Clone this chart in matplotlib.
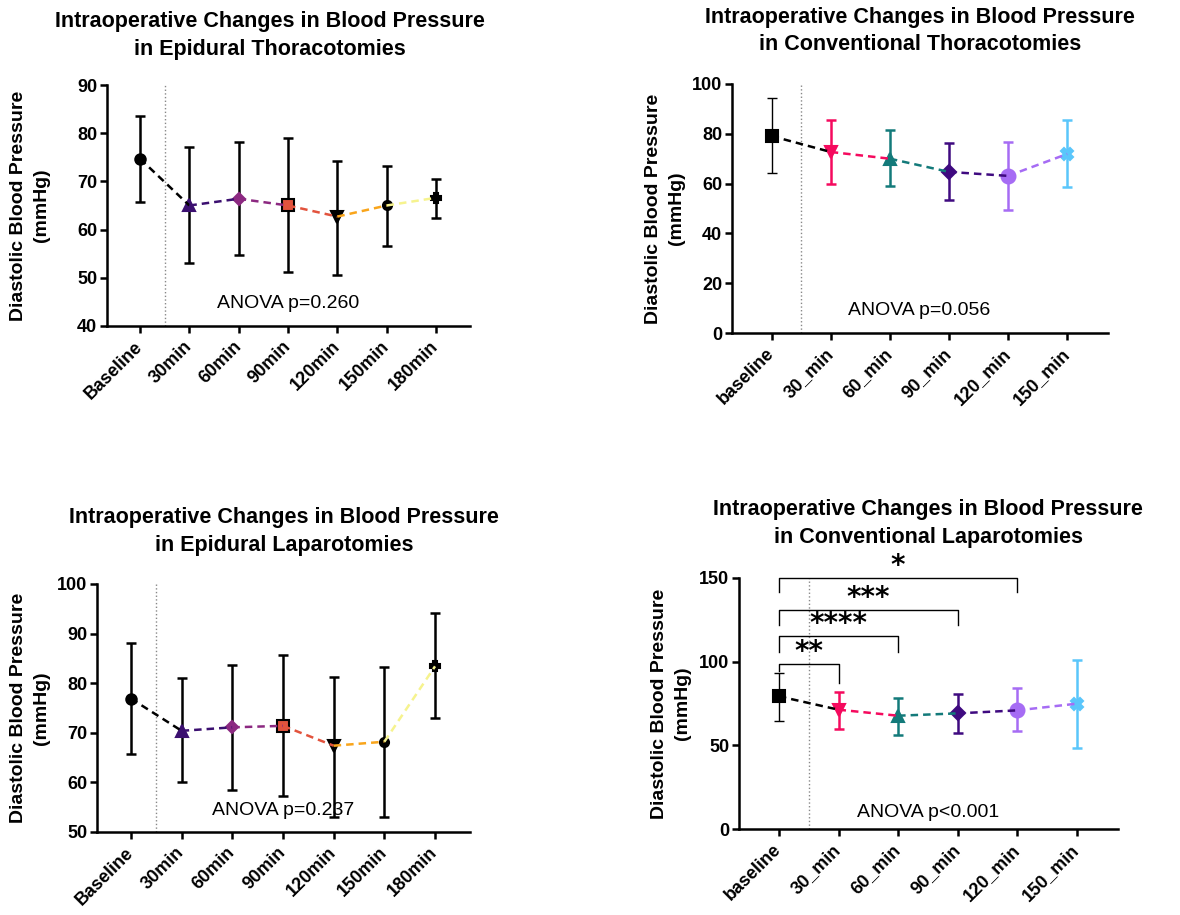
import matplotlib
matplotlib.use("Agg")
import matplotlib.pyplot as plt
import matplotlib.transforms as mtransforms
import numpy as np

plt.rcParams['font.family'] = ['Liberation Sans', 'DejaVu Sans']

# ---- DATA ----
# epidural thoracotomies
et_labels = ["Baseline", "30min", "60min", "90min", "120min", "150min", "180min"]
et_mean = [74.7, 65.0, 66.4, 65.0, 62.7, 65.0, 66.6]
et_low = [65.8, 53.1, 54.8, 51.1, 50.6, 56.7, 62.5]
et_high = [83.6, 77.1, 78.2, 79.0, 74.3, 73.2, 70.6]
et_anova = "ANOVA p=0.260"

# conventional thoracotomies
ct_labels = ["baseline", "30_min", "60_min", "90_min", "120_min", "150_min"]
ct_mean = [79.1, 72.7, 70.0, 64.7, 63.1, 71.9]
ct_low = [64.4, 59.9, 59.1, 53.6, 49.5, 58.8]
ct_high = [94.4, 85.6, 81.6, 76.5, 76.9, 85.6]
ct_anova = "ANOVA p=0.056"

# epidural laparotomies
el_labels = ["Baseline", "30min", "60min", "90min", "120min", "150min", "180min"]
el_mean = [76.9, 70.4, 71.1, 71.4, 67.4, 68.2, 83.4]
el_low = [65.7, 60.1, 58.5, 57.2, 53.0, 53.0, 72.9]
el_high = [88.2, 81.0, 83.6, 85.7, 81.2, 83.2, 94.2]
el_anova = "ANOVA p=0.237"

# conventional laparotomies
cl_labels = ["baseline", "30_min", "60_min", "90_min", "120_min", "150_min"]
cl_mean = [79.3, 71.3, 67.7, 69.1, 70.9, 74.9]
cl_low = [64.7, 60.0, 56.4, 57.2, 58.4, 48.6]
cl_high = [93.4, 82.1, 78.5, 80.9, 84.1, 100.8]
cl_anova = "ANOVA p<0.001"
cl_sig_pairs = [(0, 1), (0, 2), (0, 3), (0, 4)]
cl_sig_stars = ["**", "****", "***", "*"]

# ---- STYLES ----
EPI_SEG = ["black", "#3b0f70", "#8c2981", "#e2533d", "#f9a51b", "#f6f38e"]
EPI_MARK = ["o", "^", "D", "s", "v", "o", "P"]
EPI_MS = [7.5, 8, 6, 8.5, 9, 6.5, 6.5]
EPI_FACE = ["black", "#3b0f70", "#8c2981", "#e2533d", "black", "black", "black"]
EPI_EDGE = ["black", "#3b0f70", "#8c2981", "black", "black", "black", "black"]
EPI_ERR = ["black"] * 7
EPI_ELW = [1.8] * 7

CON_COL = ["black", "#f50a5e", "#137a7a", "#3f0a80", "#a66cf4", "#5ac6fb"]
CON_MARK = ["s", "v", "^", "D", "o", "X"]
CON_MS = [8, 8, 9, 7, 10, 8.5]
CON_ELW = [1.0, 1.8, 1.8, 1.8, 1.8, 1.8]

TITLE_FS = 15.5
LABEL_FS = 14
TICK_FS = 13

W, H = 1180, 915
fig = plt.figure(figsize=(W / 100, H / 100), dpi=100)
label_shift = mtransforms.ScaledTranslation(4 / 100, -5 / 100, fig.dpi_scale_trans)


def draw_panel(ax, labels, mean, low, high, markers, msizes, faces, edges,
               ecolors, elws, segcolors, ylim, yticks, anova, anova_xy, ylab_x):
    x = np.arange(len(labels))
    for i in x:
        ax.errorbar(x[i], mean[i], yerr=[[mean[i] - low[i]], [high[i] - mean[i]]],
                    fmt="none", ecolor=ecolors[i], elinewidth=elws[i],
                    capsize=3.6, capthick=elws[i], zorder=2)
        ax.plot(x[i], mean[i], marker=markers[i], ms=msizes[i], mfc=faces[i],
                mec=edges[i], mew=1.5, ls="none", zorder=3)
    for i in range(len(x) - 1):
        ax.plot(x[i:i + 2], mean[i:i + 2], color=segcolors[i], lw=1.8,
                dashes=(3.0, 2.0), zorder=4)
    ax.axvline(0.5, color="#888888", lw=1.0, ls=":", zorder=1)

    ax.set_xlim(-0.67, len(labels) - 1 + 0.69)
    ax.set_ylim(*ylim)
    ax.set_yticks(yticks)
    ax.set_xticks(x)
    ax.set_xticklabels(labels, rotation=45, ha="right", va="center",
                       rotation_mode="anchor", fontweight="bold", fontsize=TICK_FS)
    for lbl in ax.get_xticklabels():
        lbl.set_transform(lbl.get_transform() + label_shift)
    for lbl in ax.get_yticklabels():
        lbl.set_fontweight("bold")
        lbl.set_fontsize(TICK_FS)
    ax.tick_params(axis="both", direction="out", length=5, width=1.8, color="black")
    ax.tick_params(axis="x", pad=8)
    ax.tick_params(axis="y", pad=2)
    for side in ("top", "right"):
        ax.spines[side].set_visible(False)
    for side in ("left", "bottom"):
        ax.spines[side].set_linewidth(1.8)
    ax.text(anova_xy[0], anova_xy[1], anova, ha="center", va="center", fontsize=14)
    ax.text(ylab_x, 0.5, "Diastolic Blood Pressure\n(mmHg)", transform=ax.transAxes,
            rotation=90, ha="center", va="center", fontsize=LABEL_FS,
            fontweight="bold", multialignment="center", linespacing=1.45)


def px_axes(left, right, top, bottom):
    return fig.add_axes([left / W, 1 - bottom / H, (right - left) / W, (bottom - top) / H])


def title(x, y1, y2, line1, line2):
    fig.text(x / W, 1 - y1 / H, line1, ha="center", va="center",
             fontsize=TITLE_FS, fontweight="bold")
    fig.text(x / W, 1 - y2 / H, line2, ha="center", va="center",
             fontsize=TITLE_FS, fontweight="bold")


# top left
ax1 = px_axes(107, 470, 85, 326)
draw_panel(ax1, et_labels, et_mean, et_low, et_high, EPI_MARK, EPI_MS, EPI_FACE,
           EPI_EDGE, EPI_ERR, EPI_ELW, EPI_SEG, (40, 90), np.arange(40, 91, 10),
           et_anova, (3.0, 44.6), -0.212)
title(270, 21, 50, "Intraoperative Changes in Blood Pressure", "in Epidural Thoracotomies")

# top right
ax2 = px_axes(732, 1108, 84, 333)
draw_panel(ax2, ct_labels, ct_mean, ct_low, ct_high, CON_MARK, CON_MS, CON_COL,
           CON_COL, CON_COL, CON_ELW, CON_COL, (0, 100), np.arange(0, 101, 20),
           ct_anova, (2.5, 9.2), -0.178)
title(920, 17, 44, "Intraoperative Changes in Blood Pressure", "in Conventional Thoracotomies")

# bottom left
ax3 = px_axes(97, 470, 584, 832)
draw_panel(ax3, el_labels, el_mean, el_low, el_high, EPI_MARK, EPI_MS, EPI_FACE,
           EPI_EDGE, EPI_ERR, EPI_ELW, EPI_SEG, (50, 100), np.arange(50, 101, 10),
           el_anova, (3.0, 54.4), -0.18)
title(284, 517, 545, "Intraoperative Changes in Blood Pressure", "in Epidural Laparotomies")

# bottom right
ax4 = px_axes(739, 1118, 578, 829)
draw_panel(ax4, cl_labels, cl_mean, cl_low, cl_high, CON_MARK, CON_MS, CON_COL,
           CON_COL, CON_COL, CON_ELW, CON_COL, (0, 150), [0, 50, 100, 150],
           cl_anova, (2.5, 10.1), -0.179)
title(928, 509, 537, "Intraoperative Changes in Blood Pressure", "in Conventional Laparotomies")

# significance brackets
bar_tops = [98.8, 115.1, 130.9, 150.0]
left_feet = [94.2, 105.8, 122.0, 141.4]
right_feet = [87.3, 105.8, 122.0, 141.4]
for (a, b), stars, top, lf, rf in zip(cl_sig_pairs, cl_sig_stars, bar_tops, left_feet, right_feet):
    ax4.plot([a, a, b, b], [lf, top, top, rf], color="black", lw=1.0,
             clip_on=False, zorder=5)
    ax4.text((a + b) / 2, top - 1.2, stars, ha="center", va="bottom",
             fontsize=20, fontweight="bold", family="DejaVu Sans", clip_on=False)

fig.savefig("out.png", dpi=100)
